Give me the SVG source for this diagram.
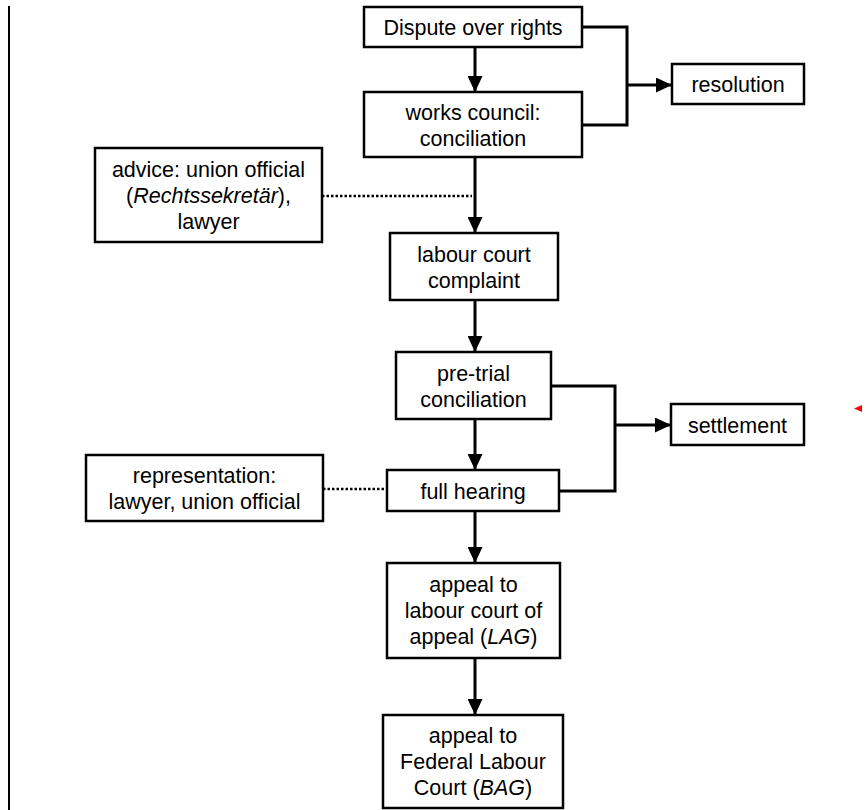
<svg xmlns="http://www.w3.org/2000/svg" width="866" height="810" viewBox="0 0 866 810">
<style>
.box{fill:#fff;stroke:#000;stroke-width:2.5}
.t{font-family:"Liberation Sans",Arial,sans-serif;font-size:21.5px;fill:#000;text-anchor:middle}
.c{fill:none;stroke:#000;stroke-width:3}
.d{fill:none;stroke:#000;stroke-width:2.5;stroke-dasharray:2.5 2}
</style>
<defs>
<marker id="ah" markerUnits="userSpaceOnUse" markerWidth="16" markerHeight="15" refX="16" refY="7.5" orient="auto">
<path d="M0,0 L16,7.5 L0,15 Z" fill="#000"/>
</marker>
</defs>
<rect width="866" height="810" fill="#fff"/>
<line x1="9" y1="6" x2="9" y2="810" stroke="#000" stroke-width="2"/>
<g id="connectors">
<line class="c" x1="475" y1="47" x2="475" y2="92" marker-end="url(#ah)"/>
<line class="c" x1="475" y1="157" x2="475" y2="233" marker-end="url(#ah)"/>
<line class="c" x1="475" y1="300" x2="475" y2="352" marker-end="url(#ah)"/>
<line class="c" x1="475" y1="419" x2="475" y2="470" marker-end="url(#ah)"/>
<line class="c" x1="475" y1="511" x2="475" y2="563" marker-end="url(#ah)"/>
<line class="c" x1="475" y1="658" x2="475" y2="715" marker-end="url(#ah)"/>
<path class="c" d="M582,27 H627 V125 H582"/>
<line class="c" x1="627" y1="85" x2="672" y2="85" marker-end="url(#ah)"/>
<path class="c" d="M551,386 H615 V491 H559"/>
<line class="c" x1="615" y1="425" x2="671" y2="425" marker-end="url(#ah)"/>
<line class="d" x1="322" y1="196" x2="472" y2="196"/>
<line class="d" x1="323" y1="489" x2="387" y2="489"/>
<path d="M854,408.5 L862,405 L862,412 Z" fill="#f00"/>
</g>
<g id="dispute">
<rect class="box" x="364" y="7" width="218" height="40"/>
<text class="t" x="473" y="35">Dispute over rights</text>
</g>
<g id="works-council">
<rect class="box" x="364" y="92" width="218" height="65"/>
<text class="t" x="473" y="120">works council:</text>
<text class="t" x="473" y="146">conciliation</text>
</g>
<g id="resolution">
<rect class="box" x="672" y="64" width="132" height="40"/>
<text class="t" x="738" y="92">resolution</text>
</g>
<g id="advice">
<rect class="box" x="95" y="148" width="227" height="94"/>
<text class="t" x="208.5" y="177">advice: union official</text>
<text class="t" x="208.5" y="203">(<tspan font-style="italic">Rechtssekretär</tspan>),</text>
<text class="t" x="208.5" y="229">lawyer</text>
</g>
<g id="labour-court">
<rect class="box" x="390" y="233" width="168" height="67"/>
<text class="t" x="474" y="262">labour court</text>
<text class="t" x="474" y="288">complaint</text>
</g>
<g id="pre-trial">
<rect class="box" x="396" y="352" width="155" height="67"/>
<text class="t" x="473.5" y="381">pre-trial</text>
<text class="t" x="473.5" y="407">conciliation</text>
</g>
<g id="settlement">
<rect class="box" x="671" y="404" width="133" height="41"/>
<text class="t" x="737.5" y="433">settlement</text>
</g>
<g id="representation">
<rect class="box" x="86" y="455" width="237" height="66"/>
<text class="t" x="204.5" y="483">representation:</text>
<text class="t" x="204.5" y="509">lawyer, union official</text>
</g>
<g id="full-hearing">
<rect class="box" x="387" y="470" width="172" height="41"/>
<text class="t" x="473" y="499">full hearing</text>
</g>
<g id="lag">
<rect class="box" x="387" y="563" width="173" height="95"/>
<text class="t" x="473.5" y="592">appeal to</text>
<text class="t" x="473.5" y="618">labour court of</text>
<text class="t" x="473.5" y="644">appeal (<tspan font-style="italic">LAG</tspan>)</text>
</g>
<g id="bag">
<rect class="box" x="383" y="715" width="180" height="93"/>
<text class="t" x="473" y="743">appeal to</text>
<text class="t" x="473" y="769">Federal Labour</text>
<text class="t" x="473" y="795">Court (<tspan font-style="italic">BAG</tspan>)</text>
</g>
</svg>
